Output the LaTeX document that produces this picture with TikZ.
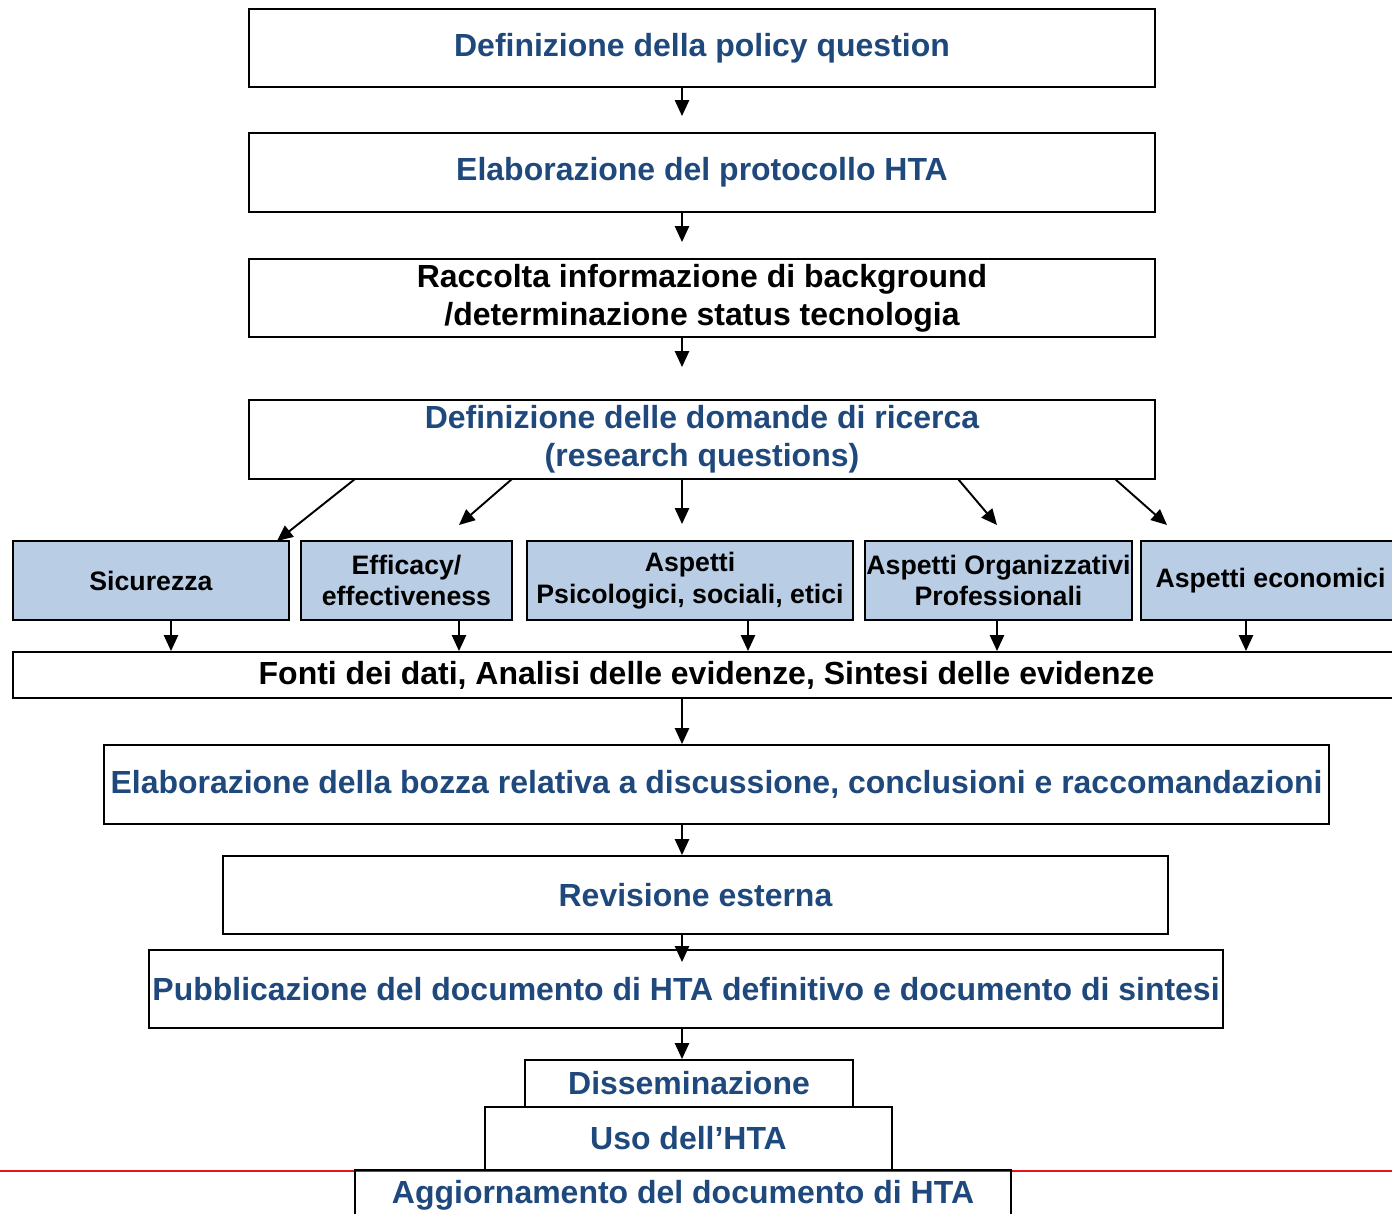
\documentclass[tikz,border=0pt]{standalone}
\usepackage{fontspec}
\setmainfont{Liberation Sans}
\usetikzlibrary{arrows.meta}

\definecolor{htablue}{RGB}{31,73,125}
\definecolor{aspectfill}{RGB}{185,205,229}
\definecolor{rulered}{RGB}{230,20,20}

\tikzstyle{phase}=[draw, line width=1.1pt, inner sep=0pt, align=center, text=htablue, font=\bfseries\fontsize{18.2}{21.8}\selectfont]
\tikzstyle{aspect}=[phase, fill=aspectfill, text=black, font=\bfseries\fontsize{15.2}{18}\selectfont]
\tikzstyle{arrow}=[line width=1.1pt, -{Triangle[length=9pt, width=8pt]}]

\begin{document}
\begin{tikzpicture}[x=0.02cm, y=-0.02cm]
      \clip (0,0) rectangle (1392,1213);
      \fill[white] (0,0) rectangle (1392,1213);

      \node[phase, minimum width=18.12cm, minimum height=1.56cm] (policy) at (702,48) {Definizione della policy question};
      \node[phase, minimum width=18.12cm, minimum height=1.58cm] (protocol) at (702,172.5) {Elaborazione del protocollo HTA};
      \node[phase, text=black, minimum width=18.12cm, minimum height=1.56cm] (background) at (702,298) {Raccolta informazione di background\\/determinazione status tecnologia};
      \node[phase, minimum width=18.12cm, minimum height=1.58cm] (questions) at (702,439.5) {Definizione delle domande di ricerca\\(research questions)};

      \node[aspect, minimum width=5.52cm, minimum height=1.58cm] (safety) at (151,580.5) {Sicurezza};
      \node[aspect, minimum width=4.22cm, minimum height=1.58cm] (efficacy) at (406.5,580.5) {Efficacy/\\effectiveness};
      \node[aspect, minimum width=6.52cm, minimum height=1.58cm] (psycho) at (690,580.5) {Aspetti\\Psicologici, sociali, etici};
      \node[aspect, minimum width=5.34cm, minimum height=1.58cm] (organis) at (998.5,580.5) {Aspetti Organizzativi\\Professionali};
      \node[aspect, minimum width=5.18cm, minimum height=1.58cm] (economic) at (1270.5,580.5) {Aspetti economici};

      \node[phase, text=black, minimum width=27.74cm, minimum height=0.92cm] (sources) at (706.5,675) {Fonti dei dati, Analisi delle evidenze, Sintesi delle evidenze};
      \node[phase, minimum width=24.5cm, minimum height=1.58cm] (draft) at (716.5,784.5) {Elaborazione della bozza relativa a discussione, conclusioni e raccomandazioni};
      \node[phase, minimum width=18.9cm, minimum height=1.56cm] (review) at (695.5,895) {Revisione esterna};
      \node[phase, minimum width=21.48cm, minimum height=1.56cm] (publish) at (686,989) {Pubblicazione del documento di HTA definitivo e documento di sintesi};

      \draw[rulered, line width=1.2pt] (0,1171) -- (1392,1171);
      \node[phase, minimum width=6.56cm, minimum height=0.94cm] (spread) at (689,1083.5) {Disseminazione};
      \node[phase, minimum width=8.14cm, minimum height=1.26cm] (use) at (688.5,1138.5) {Uso dell’HTA};
      \node[phase, minimum width=13.12cm, minimum height=1.0cm] (update) at (683,1195) {Aggiornamento del documento di HTA};

      \coordinate (spine) at (682,0);
      \coordinate (fromA) at (355,479);
      \coordinate (tipA) at (277,541);
      \coordinate (fromB) at (512,479);
      \coordinate (tipB) at (459,525);
      \coordinate (fromD) at (958,479);
      \coordinate (tipD) at (997,525);
      \coordinate (fromE) at (1115,479);
      \coordinate (tipE) at (1167,525);

      \draw[arrow, shorten >=0.32cm] (policy.south -| spine) -- (protocol.north -| spine);
      \draw[arrow, shorten >=0.32cm] (protocol.south -| spine) -- (background.north -| spine);
      \draw[arrow, shorten >=0.64cm] (background.south -| spine) -- (questions.north -| spine);
      \draw[arrow, shorten >=0.32cm] (questions.south -| spine) -- (psycho.north -| spine);
      \draw[arrow] (fromA) -- (tipA);
      \draw[arrow] (fromB) -- (tipB);
      \draw[arrow] (fromD) -- (tipD);
      \draw[arrow] (fromE) -- (tipE);

      \draw[arrow] (safety.south -| 171,0) -- (sources.north -| 171,0);
      \draw[arrow] (efficacy.south -| 459,0) -- (sources.north -| 459,0);
      \draw[arrow] (psycho.south -| 748,0) -- (sources.north -| 748,0);
      \draw[arrow] (organis.south -| 997,0) -- (sources.north -| 997,0);
      \draw[arrow] (economic.south -| 1246,0) -- (sources.north -| 1246,0);

      \draw[arrow] (sources.south -| spine) -- (draft.north -| spine);
      \draw[arrow] (draft.south -| spine) -- (review.north -| spine);
      \draw[arrow, shorten >=-0.26cm] (review.south -| spine) -- (publish.north -| spine);
      \draw[arrow] (publish.south -| spine) -- (spread.north -| spine);
    \end{tikzpicture}
\end{document}
